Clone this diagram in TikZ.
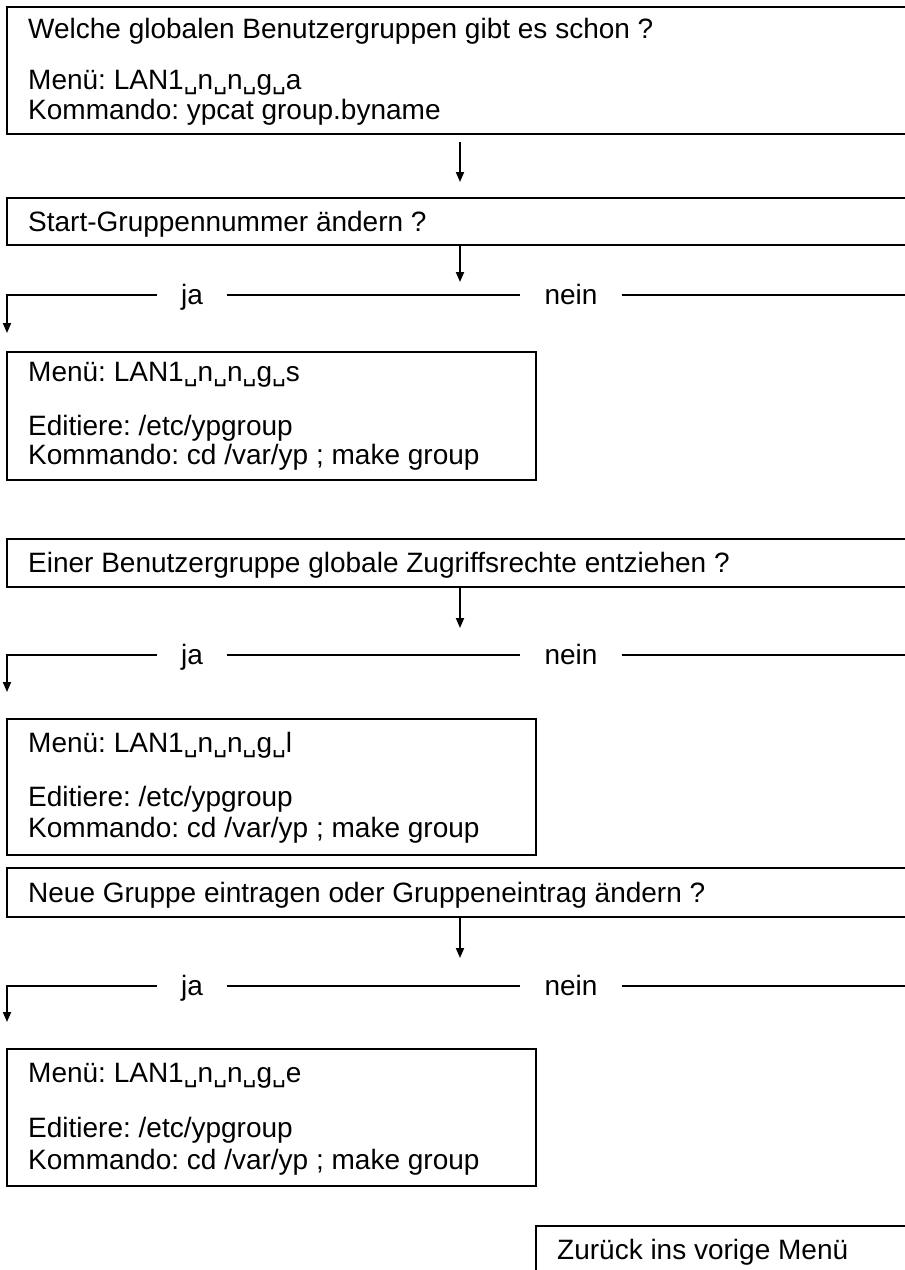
\documentclass[tikz,border=0pt]{standalone}
\usepackage{fontspec}
\setmainfont{Liberation Sans}
\newfontfamily\vsfont{DejaVu Sans Mono}
\newcommand\vsp{{\vsfont\fontsize{23}{23}\selectfont ␣}}
\usetikzlibrary{arrows.meta}
\frenchspacing
\begin{document}
\begin{tikzpicture}[x=1pt,y=-1pt,
  ln/.style={line width=1.8pt},
  arr/.style={line width=1.8pt,-{Triangle[length=10pt,width=8pt]}},
  txt/.style={anchor=base west,inner sep=0pt,font=\fontsize{28}{30}\selectfont},
  lbl/.style={inner ysep=0pt,inner xsep=24pt,text height=18pt,text depth=0pt,font=\fontsize{28}{30}\selectfont},
  frame/.style={inner sep=0pt,outer sep=0pt,anchor=north west}]
\useasboundingbox[fill=white] (0,0) rectangle (905,1270);

% ---------- box 1 ----------
\node[frame,minimum width=898pt,minimum height=127pt] (b1) at (7,7) {};
\draw[ln] (b1.north east) -- (b1.north west) -- (b1.south west) -- (b1.south east);
\node[txt] (t1a) at (28,38) {Welche globalen Benutzergruppen gibt es schon ?};
\node[txt] (t1b) at (28,89) {Menü: LAN1\vsp n\vsp n\vsp g\vsp a};
\node[txt] (t1c) at (28,119) {Kommando: ypcat group.byname};

\coordinate (a1s) at (460,142);
\coordinate (a1e) at (460,182);
\draw[arr] (a1s) -- (a1e);

% ---------- box 2 ----------
\node[frame,minimum width=898pt,minimum height=47pt] (b2) at (7,198) {};
\draw[ln] (b2.north east) -- (b2.north west) -- (b2.south west) -- (b2.south east);
\node[txt] (t2) at (28,231) {Start-Gruppennummer ändern ?};

\coordinate (m1) at (460,282);
\draw[arr] (b2.south -| m1) -- (m1);
\node[lbl] (ja1) at (192,295) {ja};
\node[lbl] (nein1) at (571,295) {nein};
\coordinate (L1) at (7,295);
\coordinate (D1) at (7,333);
\coordinate (R1) at (905,295);
\draw[arr] (ja1) -- (L1) -- (D1);
\draw[ln] (ja1) -- (nein1);
\draw[ln] (nein1) -- (R1);

% ---------- box 3 ----------
\node[frame,minimum width=529pt,minimum height=128pt,draw,line width=1.8pt] (b3) at (7,352) {};
\node[txt] (t3a) at (28,381) {Menü: LAN1\vsp n\vsp n\vsp g\vsp s};
\node[txt] (t3b) at (28,435) {Editiere: /etc/ypgroup};
\node[txt] (t3c) at (28,464) {Kommando: cd /var/yp ; make group};

% ---------- box 4 ----------
\node[frame,minimum width=898pt,minimum height=48pt] (b4) at (7,539) {};
\draw[ln] (b4.north east) -- (b4.north west) -- (b4.south west) -- (b4.south east);
\node[txt] (t4) at (28,572) {Einer Benutzergruppe globale Zugriffsrechte entziehen ?};

\coordinate (m2) at (460,628);
\draw[arr] (b4.south -| m2) -- (m2);
\node[lbl] (ja2) at (192,655) {ja};
\node[lbl] (nein2) at (571,655) {nein};
\coordinate (L2) at (7,655);
\coordinate (D2) at (7,692);
\coordinate (R2) at (905,655);
\draw[arr] (ja2) -- (L2) -- (D2);
\draw[ln] (ja2) -- (nein2);
\draw[ln] (nein2) -- (R2);

% ---------- box 5 ----------
\node[frame,minimum width=529pt,minimum height=136pt,draw,line width=1.8pt] (b5) at (7,719) {};
\node[txt] (t5a) at (28,752) {Menü: LAN1\vsp n\vsp n\vsp g\vsp l};
\node[txt] (t5b) at (28,806) {Editiere: /etc/ypgroup};
\node[txt] (t5c) at (28,837) {Kommando: cd /var/yp ; make group};

% ---------- box 6 ----------
\node[frame,minimum width=898pt,minimum height=49pt] (b6) at (7,868) {};
\draw[ln] (b6.north east) -- (b6.north west) -- (b6.south west) -- (b6.south east);
\node[txt] (t6) at (28,902) {Neue Gruppe eintragen oder Gruppeneintrag ändern ?};

\coordinate (m3) at (460,958);
\draw[arr] (b6.south -| m3) -- (m3);
\node[lbl] (ja3) at (192,986) {ja};
\node[lbl] (nein3) at (571,986) {nein};
\coordinate (L3) at (7,986);
\coordinate (D3) at (7,1022);
\coordinate (R3) at (905,986);
\draw[arr] (ja3) -- (L3) -- (D3);
\draw[ln] (ja3) -- (nein3);
\draw[ln] (nein3) -- (R3);

% ---------- box 7 ----------
\node[frame,minimum width=529pt,minimum height=137pt,draw,line width=1.8pt] (b7) at (7,1049) {};
\node[txt] (t7a) at (28,1082) {Menü: LAN1\vsp n\vsp n\vsp g\vsp e};
\node[txt] (t7b) at (28,1137) {Editiere: /etc/ypgroup};
\node[txt] (t7c) at (28,1169) {Kommando: cd /var/yp ; make group};

% ---------- box 8 ----------
\node[frame,minimum width=369pt,minimum height=44pt] (b8) at (536,1226) {};
\draw[ln] (b8.north east) -- (b8.north west) -- (b8.south west);
\node[txt] (t8) at (557,1259) {Zurück ins vorige Menü};
\end{tikzpicture}
\end{document}
